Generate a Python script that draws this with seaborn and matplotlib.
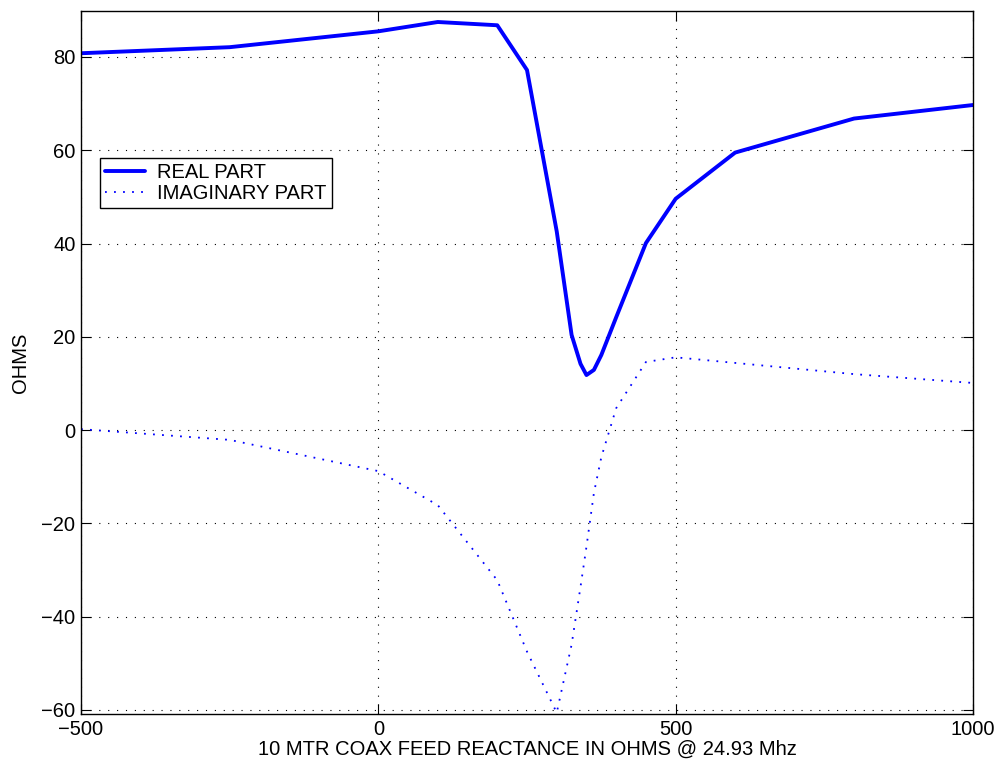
import numpy as np
import pandas as pd
import seaborn as sns
import matplotlib
matplotlib.use("Agg")
import matplotlib.pyplot as plt

# Feed reactance sweep (ohms) and the resulting input impedance
reactance = [-500, -250, 0, 100, 200, 250, 300, 325, 340, 350, 362.5, 375, 400, 450, 500, 600, 800, 1000]
real_part = [80.8, 82.1, 85.5, 87.5, 86.8, 77.2, 42.6, 20.4, 14.2, 11.8, 12.9, 16.1, 24.2, 40.1, 49.6, 59.5, 66.8, 69.7]
imag_part = [0.2, -2.1, -8.8, -16.1, -32.2, -47.5, -60.6, -46.0, -33.6, -25.0, -13.5, -5.8, 4.7, 14.6, 15.6, 14.4, 12.0, 10.1]

x_ticks = [-500, 0, 500, 1000]
y_ticks = [-60, -40, -20, 0, 20, 40, 60, 80]

df = pd.DataFrame({"reactance": reactance, "real": real_part, "imag": imag_part})

sns.set_style("ticks")
plt.rcParams["font.family"] = ["Liberation Sans", "DejaVu Sans"]
plt.rcParams["text.color"] = "black"
plt.rcParams["axes.labelcolor"] = "black"

fig = plt.figure(figsize=(10, 7.72), dpi=100)
ax = fig.add_axes([0.081, 0.075, 0.892, 0.911])

sns.lineplot(data=df, x="reactance", y="real", ax=ax, color="#0000ff",
             linewidth=2.8, label="REAL PART", sort=False)
sns.lineplot(data=df, x="reactance", y="imag", ax=ax, color="#0000ff",
             linewidth=1.3, linestyle=(0, (1.0, 4.0)), label="IMAGINARY PART", sort=False)

ax.set_xlim(-500, 1000)
ax.set_ylim(-60.9, 89.9)
ax.set_xticks(x_ticks)
ax.set_yticks(y_ticks)
ax.grid(True, color="black", linestyle=(0, (1, 7)), linewidth=0.8)

ax.tick_params(direction="in", length=7, width=0.8, labelsize=14.5,
               top=True, right=True, colors="black", pad=4)
for side in ax.spines.values():
    side.set_visible(True)
    side.set_linewidth(1.0)
    side.set_color("black")

ax.set_xlabel("10 MTR COAX FEED REACTANCE IN OHMS @ 24.93 Mhz", fontsize=14.5, labelpad=1)
ax.set_ylabel("OHMS", fontsize=14.5, labelpad=8)

leg = ax.legend(loc="upper left", bbox_to_anchor=(0.0213, 0.7906), borderaxespad=0,
                fontsize=14.5, frameon=True, fancybox=False, framealpha=1,
                edgecolor="black", handlelength=2.0, handletextpad=0.6,
                borderpad=0.25, labelspacing=0.1)
leg.get_frame().set_linewidth(1.0)

fig.savefig("out.png", dpi=100)
